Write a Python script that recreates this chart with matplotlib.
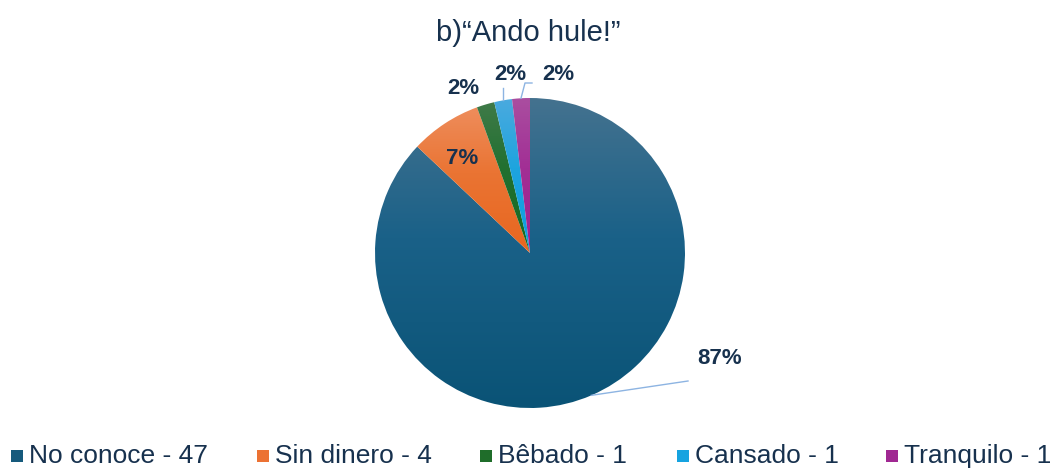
import numpy as np
import matplotlib
matplotlib.use("Agg")
import matplotlib.pyplot as plt
from matplotlib.colors import LinearSegmentedColormap, to_rgb

plt.rcParams['font.family'] = ['Liberation Sans', 'DejaVu Sans']

title = "b)\u201cAndo hule!\u201d"
categories = ["No conoce", "Sin dinero", "Bêbado", "Cansado", "Tranquilo"]
counts = [47, 4, 1, 1, 1]
pct_labels = ["87%", "7%", "2%", "2%", "2%"]
# gradient colours (top, middle, bottom) per slice
grad_top = ["#44728f", "#ee8d5c", "#3f7a48", "#4aaade", "#aa4ea0"]
grad_mid = ["#1a6188", "#ea7433", "#217030", "#1ea4df", "#a22f95"]
grad_bot = ["#0a5376", "#e8661f", "#166a22", "#0a9fdf", "#9e1f8e"]
legend_colors = ["#165a7c", "#ec7233", "#1f6d2a", "#16a3e0", "#a02892"]
text_color = "#17314e"
leader_color = "#8db4e2"

W, H = 1053, 468
fig = plt.figure(figsize=(W / 100, H / 100), dpi=100)
ax = fig.add_axes([0, 0, 1, 1])

cx, cy, R = 530, 215, 155
wedges, _ = ax.pie(counts, startangle=90, counterclock=False, center=(cx, cy),
                   radius=R, frame=True, wedgeprops=dict(linewidth=0))

grad = np.linspace(0, 1, 256).reshape(-1, 1)
for w, ct, cm, cb in zip(wedges, grad_top, grad_mid, grad_bot):
    w.set_facecolor('none')
    ext = w.get_path().get_extents()
    cmap = LinearSegmentedColormap.from_list(
        'g', [(0, to_rgb(ct)), (0.45, to_rgb(cm)), (1, to_rgb(cb))])
    im = ax.imshow(grad, cmap=cmap, aspect='auto', origin='upper',
                   extent=[ext.x0, ext.x1, ext.y0, ext.y1], zorder=1,
                   interpolation='bilinear')
    im.set_clip_path(w)
ax.set_xlim(0, W)
ax.set_ylim(0, H)
ax.set_aspect('auto')
ax.axis('off')

def mid_point(w, frac=1.0):
    a = np.deg2rad((w.theta1 + w.theta2) / 2)
    return cx + frac * R * np.cos(a), cy + frac * R * np.sin(a)

lab_kw = dict(ha='center', va='center', fontsize=16, fontweight='bold',
              color=text_color, zorder=4)
# 87% label with leader
x0, y0 = mid_point(wedges[0])
ax.plot([x0, 688], [y0, 87], color=leader_color, lw=1.0, zorder=3)
ax.text(720, 110, pct_labels[0], **lab_kw)
# 7% inside
ax.text(462, 310, pct_labels[1], **lab_kw)
# 2% green, no leader
ax.text(463, 380, pct_labels[2], **lab_kw)
# 2% cyan with vertical leader
x0, y0 = mid_point(wedges[3])
ax.plot([x0, x0], [y0, 380], color=leader_color, lw=1.0, zorder=3)
ax.text(510, 393, pct_labels[3], **lab_kw)
# 2% magenta with bent leader
x0, y0 = mid_point(wedges[4])
ax.plot([x0, 525, 532], [y0, 385, 385], color=leader_color, lw=1.0, zorder=3)
ax.text(558, 393, pct_labels[4], **lab_kw)

# title
ax.text(cx - 2, H - 33, title, ha='center', va='center', fontsize=21,
        color=text_color)

# legend
leg_x = [11, 257, 480, 677, 886]
for lx, cat, n, col in zip(leg_x, categories, counts, legend_colors):
    ax.add_patch(plt.Rectangle((lx, 6), 12, 12, facecolor=col, edgecolor='none'))
    ax.text(lx + 18, 12, f"{cat} - {n}", ha='left', va='center', fontsize=19,
            color=text_color)

fig.savefig("out.png", dpi=100)
